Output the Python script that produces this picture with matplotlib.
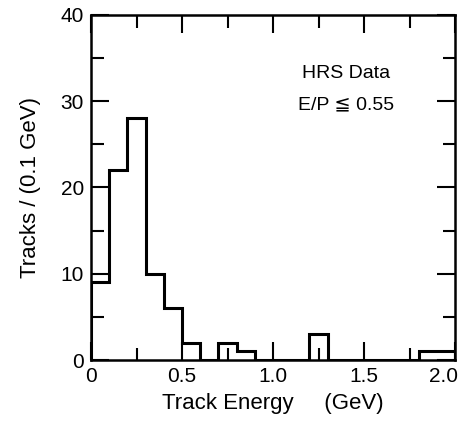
import numpy as np
import matplotlib
matplotlib.use("Agg")
import matplotlib.pyplot as plt
from matplotlib.ticker import MultipleLocator
import matplotlib.transforms as mtransforms

plt.rcParams['font.family'] = ['Liberation Sans', 'DejaVu Sans']

bin_edges = [round(0.1 * i, 1) for i in range(21)]
counts = [9, 22, 28, 10, 6, 2, 0, 2, 1, 0, 0, 0, 3, 0, 0, 0, 0, 0, 1, 1]
x_ticks = [0, 0.5, 1.0, 1.5, 2.0]
x_tick_labels = ["0", "0.5", "1.0", "1.5", "2.0"]
y_ticks = [0, 10, 20, 30, 40]
y_tick_labels = ["0", "10", "20", "30", "40"]

fig = plt.figure(figsize=(4.66, 4.23), dpi=100)
ax = fig.add_axes([91 / 466, 1 - 360 / 423, (455 - 91) / 466, (360 - 15) / 423])

ax.stairs(counts, bin_edges, color='black', linewidth=2.2, baseline=0)

ax.set_xlim(0, 2.0)
ax.set_ylim(0, 40)
ax.set_xticks(x_ticks)
ax.set_xticklabels(x_tick_labels)
ax.set_yticks(y_ticks)
ax.set_yticklabels(y_tick_labels)
ax.xaxis.set_minor_locator(MultipleLocator(0.25))
ax.yaxis.set_minor_locator(MultipleLocator(5))
ax.tick_params(which='both', direction='in', top=True, right=True, width=1.5,
               labelsize=15, pad=5)
ax.tick_params(which='major', length=13)
ax.tick_params(which='minor', length=9)
for s in ax.spines.values():
    s.set_linewidth(1.8)

# last x tick label sits left of its tick, as in the reference
last = ax.get_xticklabels()[-1]
last.set_transform(last.get_transform() +
                   mtransforms.ScaledTranslation(-12 / 100, 0, fig.dpi_scale_trans))

ax.set_xlabel("Track Energy     (GeV)", fontsize=16, labelpad=5)
ax.set_ylabel("Tracks / (0.1 GeV)", fontsize=16, labelpad=14)

ax.text(1.40, 33.2, "HRS Data", ha='center', va='center', fontsize=14)
ax.text(1.40, 29.6, "E/P ≦ 0.55", ha='center', va='center', fontsize=14)

fig.savefig("out.png", dpi=100)
